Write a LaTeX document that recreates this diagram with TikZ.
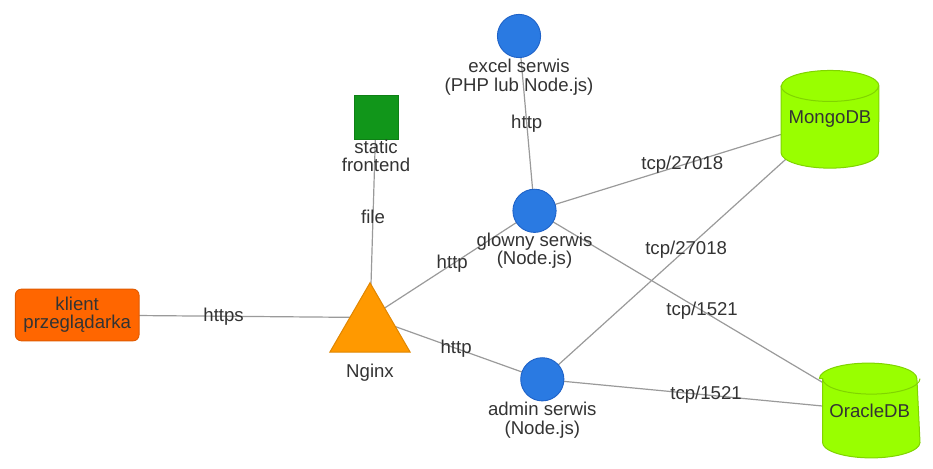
\documentclass[tikz,border=0pt]{standalone}
\usepackage{fontspec}
\setmainfont{Liberation Sans}
\usetikzlibrary{calc}
\definecolor{txtc}{HTML}{333333}
\definecolor{edgec}{HTML}{9A9A9A}
\definecolor{bluef}{HTML}{2A7AE2}
\definecolor{blued}{HTML}{1E62C8}
\definecolor{orangef}{HTML}{FF6600}
\definecolor{oranged}{HTML}{E05A00}
\definecolor{trif}{HTML}{FF9900}
\definecolor{trid}{HTML}{E08600}
\definecolor{greenf}{HTML}{11961A}
\definecolor{greend}{HTML}{0E8015}
\definecolor{limef}{HTML}{99FF00}
\definecolor{limed}{HTML}{80D400}
\pgfdeclarelayer{edges}
\pgfdeclarelayer{shapes}
\pgfsetlayers{edges,shapes,main}
\tikzset{
  txt/.style={font=\fontsize{18.6pt}{18.3pt}\selectfont, text=txtc, align=center, inner sep=0pt},
  lbl/.style={txt, anchor=north},
  elabel/.style={txt, midway},
  conn/.style={draw=edgec, line width=1.2pt},
  svc/.style={circle, fill=bluef, draw=blued, line width=0.9pt, minimum size=43.2pt, inner sep=0pt},
  clientbox/.style={txt, rectangle, rounded corners=6pt, fill=orangef, draw=oranged, line width=0.9pt, minimum width=123.7pt, minimum height=51.7pt},
  staticbox/.style={rectangle, fill=greenf, draw=greend, line width=0.6pt, minimum size=43.7pt, inner sep=0pt},
  holder/.style={rectangle, inner sep=0pt, draw=none},
  dbshape/.style={fill=limef, draw=limed, line width=1pt},
}
\newcommand{\dbcyl}[1]{%
  \path[dbshape] ([yshift=-15.5pt]#1.north west) -- ([yshift=15.5pt]#1.south west)
    arc[start angle=180, end angle=360, x radius=48.75pt, y radius=15.5pt]
    -- ([yshift=-15.5pt]#1.north east)
    arc[start angle=0, end angle=180, x radius=48.75pt, y radius=15.5pt] -- cycle;
  \draw[draw=limed, line width=1pt] ([yshift=-15.5pt]#1.north west)
    arc[start angle=180, end angle=360, x radius=48.75pt, y radius=15.5pt];
}
\begin{document}
\begin{tikzpicture}[x=1pt, y=1pt]
\useasboundingbox (0,0) rectangle (933,-468);

% nodes
\node[clientbox] (klient) at (77.2,-315) {klient\\przeglądarka};
\node[holder, minimum width=80pt, minimum height=69pt] (nginx) at (370,-317.5) {};
\node[txt, anchor=base] (nginxlbl) at (370,-377.3) {Nginx};
\node[staticbox] (static) at (376,-117.2) {};
\node[lbl] (staticlbl) at (376,-139.6) {static\\frontend};
\node[svc] (excel) at (519,-36) {};
\node[lbl] (excellbl) at (519,-59.2) {excel serwis\\(PHP lub Node.js)};
\node[svc] (glowny) at (534.5,-210.8) {};
\node[lbl] (glownylbl) at (534.5,-232.4) {glowny serwis\\(Node.js)};
\node[svc] (admin) at (542.3,-379.3) {};
\node[lbl] (adminlbl) at (542.3,-402.2) {admin serwis\\(Node.js)};
\node[holder, minimum width=97.5pt, minimum height=97.3pt] (mongo) at (830,-119.3) {};
\node[txt] (mongolbl) at (830,-119.3) {MongoDB};
\node[holder, minimum width=94pt, minimum height=94.4pt] (oracle) at (869.7,-410.5) {};
\node[txt] (oraclelbl) at (869.7,-410.5) {OracleDB};

% shapes under text
\begin{pgfonlayer}{shapes}
  \path[fill=trif, draw=trid, line width=1pt, line join=miter]
    (nginx.north) -- (nginx.south east) -- (nginx.south west) -- cycle;
  \dbcyl{mongo}
  \dbcyl{oracle}
\end{pgfonlayer}

% connectors
\begin{pgfonlayer}{edges}
  \draw[conn] (klient.center) -- (nginx.center);
  \draw[conn] (nginx.center) -- (static.center);
  \draw[conn] (nginx.center) -- (glowny.center);
  \draw[conn] (nginx.center) -- (admin.center);
  \draw[conn] (excel.center) -- (glowny.center);
  \draw[conn] (glowny.center) -- (mongo.center);
  \draw[conn] (admin.center) -- (mongo.center);
  \draw[conn] (glowny.center) -- (oracle.center);
  \draw[conn] (admin.center) -- (oracle.center);
\end{pgfonlayer}

% connector labels
\path (klient.center) -- (nginx.center) node[elabel] (l1) {https};
\path (nginx.center) -- (static.center) node[elabel] (l2) {file};
\path (nginx.center) -- (glowny.center) node[elabel] (l3) {http};
\path (nginx.center) -- (admin.center) node[elabel] (l4) {http};
\path (excel.center) -- (glowny.center) node[elabel] (l5) {http};
\path (glowny.center) -- (mongo.center) node[elabel] (l6) {tcp/27018};
\path (admin.center) -- (mongo.center) node[elabel] (l7) {tcp/27018};
\path (glowny.center) -- (oracle.center) node[elabel] (l8) {tcp/1521};
\path (admin.center) -- (oracle.center) node[elabel] (l9) {tcp/1521};
\end{tikzpicture}
\end{document}
